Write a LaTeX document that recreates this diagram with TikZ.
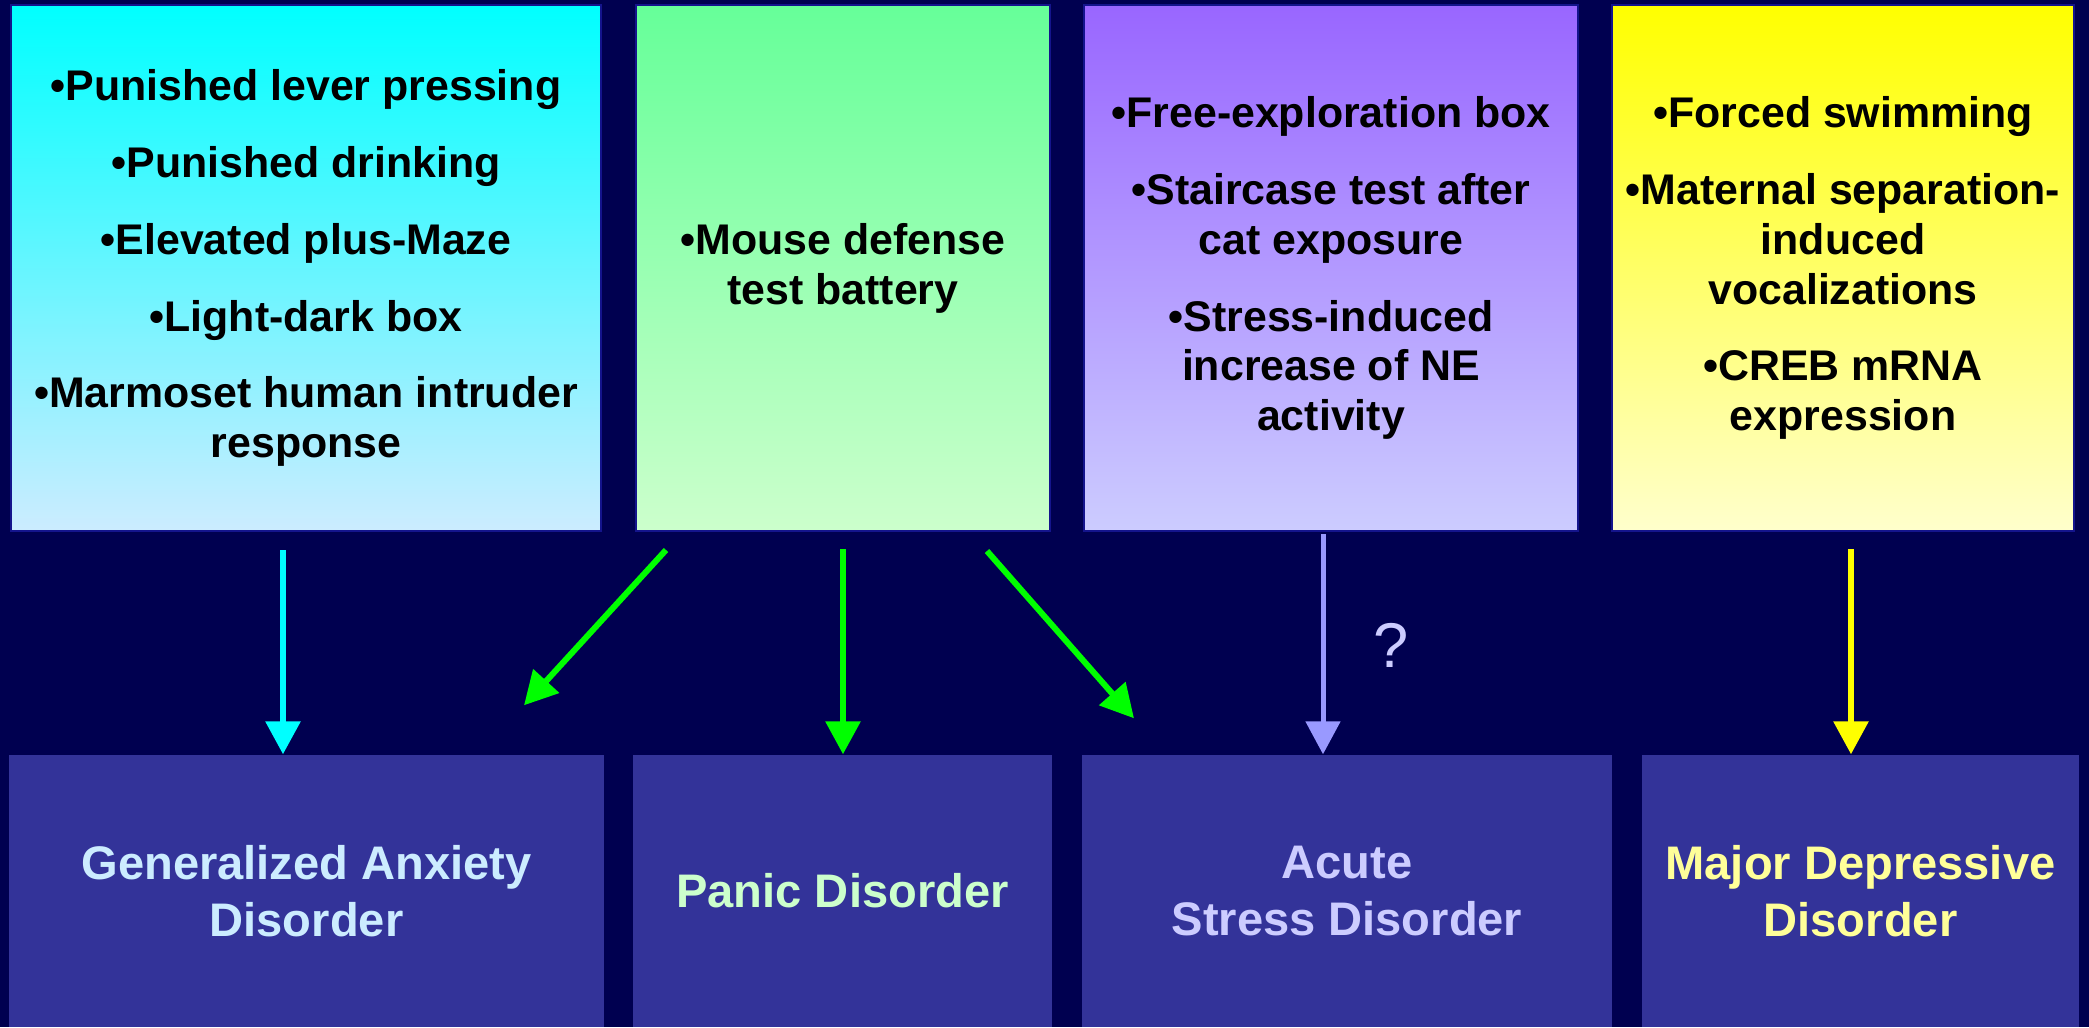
\documentclass[tikz,border=0pt]{standalone}
\usepackage{fontspec}
\setmainfont{Liberation Sans}
\usepackage{xcolor}
\usetikzlibrary{arrows.meta,positioning}
\definecolor{bgnavy}{RGB}{0,0,80}
\definecolor{boxedge}{RGB}{20,20,140}
\definecolor{disorderblue}{RGB}{51,51,153}
\definecolor{gadtxt}{RGB}{204,236,255}
\definecolor{pdtxt}{RGB}{204,255,204}
\definecolor{asdtxt}{RGB}{204,204,255}
\definecolor{mddtxt}{RGB}{255,255,153}
\definecolor{gadarrow}{RGB}{0,255,255}
\definecolor{pdarrow}{RGB}{0,255,0}
\definecolor{asdarrow}{RGB}{153,153,255}
\definecolor{mddarrow}{RGB}{255,255,0}
\tikzstyle{arrow} = [line width=0.6mm, -{Triangle[width=3.4mm,length=3.3mm]}]

\begin{document}
\begin{tikzpicture}
		\useasboundingbox (0,0) rectangle (20.89,-10.27);
		\fill[bgnavy] (0,0) rectangle (20.89,-10.27);
		\coordinate (gadtests) at (3.06,-2.68);
		\coordinate (pdtests) at (8.43,-2.68);
		\coordinate (asdtests) at (13.31,-2.68);
		\coordinate (mddtests) at (18.43,-2.68);
		\coordinate (gad) at (3.065,-8.91);
		\coordinate (pd) at (8.425,-8.91);
		\coordinate (asd) at (13.47,-8.91);
		\coordinate (mdd) at (18.605,-8.91);
		% Animal models
		\begin{scope}[every node/.style={draw=boxedge, line width=0.2mm, rectangle, minimum height=5.26cm, inner sep=0pt, align=center, font=\fontsize{12.2}{14.2}\selectfont\bfseries}]
		\node[name=gadtests, minimum width=5.9cm, top color=gadarrow, bottom color=gadtxt] at (gadtests) {•Punished lever pressing\\[2.7mm] •Punished drinking\\[2.7mm] •Elevated plus-Maze\\[2.7mm] •Light-dark box\\[2.7mm] •Marmoset human intruder\\ response};
		\node[name=pdtests, minimum width=4.14cm, top color={rgb,255:red,102;green,255;blue,153}, bottom color=pdtxt] at (pdtests) {•Mouse defense\\ test battery};
		\node[name=asdtests, minimum width=4.94cm, top color={rgb,255:red,153;green,102;blue,255}, bottom color=asdtxt] at (asdtests) {•Free-exploration box\\[2.7mm] •Staircase test after\\ cat exposure\\[2.7mm] •Stress-induced\\ increase of NE\\ activity};
		\node[name=mddtests, minimum width=4.62cm, top color=mddarrow, bottom color={rgb,255:red,255;green,255;blue,204}] at (mddtests) {•Forced swimming\\[2.7mm] •Maternal separation-\\ induced\\ vocalizations\\[2.7mm] •CREB mRNA\\ expression};
		\end{scope}
		% Disorders
		\begin{scope}[every node/.style={fill=disorderblue, rectangle, minimum height=2.72cm, inner sep=0pt, align=center, font=\fontsize{13.4}{16.2}\selectfont\bfseries}]
		\node[name=gad, minimum width=5.95cm, text=gadtxt] at (gad) {Generalized Anxiety\\ Disorder};
		\node[name=pd, minimum width=4.19cm, text=pdtxt] at (pd) {Panic Disorder};
		\node[name=asd, minimum width=5.3cm, text=asdtxt] at (asd) {Acute\\ Stress Disorder};
		\node[name=mdd, minimum width=4.37cm, text=mddtxt] at (mdd) {Major Depressive\\ Disorder};
		\end{scope}
		\node[name=qmark, text=asdtxt, font=\fontsize{18}{20}\selectfont] at (13.91,-6.45) {?};
		% Arrow ends
		\coordinate (gadfrom) at ([xshift=-0.23cm, yshift=-0.18cm]gadtests.south);
		\coordinate (pdfrom) at ([yshift=-0.17cm]pdtests.south);
		\coordinate (pdleft) at ([xshift=-1.77cm, yshift=-0.18cm]pdtests.south);
		\coordinate (pdright) at ([xshift=1.44cm, yshift=-0.19cm]pdtests.south);
		\coordinate (asdfrom) at ([xshift=-0.08cm, yshift=-0.02cm]asdtests.south);
		\coordinate (mddfrom) at ([xshift=0.08cm, yshift=-0.17cm]mddtests.south);
		\coordinate (gadtip) at ([xshift=2.175cm, yshift=0.49cm]gad.north);
		\coordinate (asdtip) at ([xshift=-2.13cm, yshift=0.36cm]asd.north);
		\draw [arrow, gadarrow] (gadfrom)--(gadfrom |- gad.north);
		\draw [arrow, pdarrow] (pdfrom)--(pdfrom |- pd.north);
		\draw [arrow, pdarrow] (pdleft)--(gadtip);
		\draw [arrow, pdarrow] (pdright)--(asdtip);
		\draw [arrow, asdarrow, line width=0.5mm] (asdfrom)--(asdfrom |- asd.north);
		\draw [arrow, mddarrow] (mddfrom)--(mddfrom |- mdd.north);
\end{tikzpicture}
\end{document}
